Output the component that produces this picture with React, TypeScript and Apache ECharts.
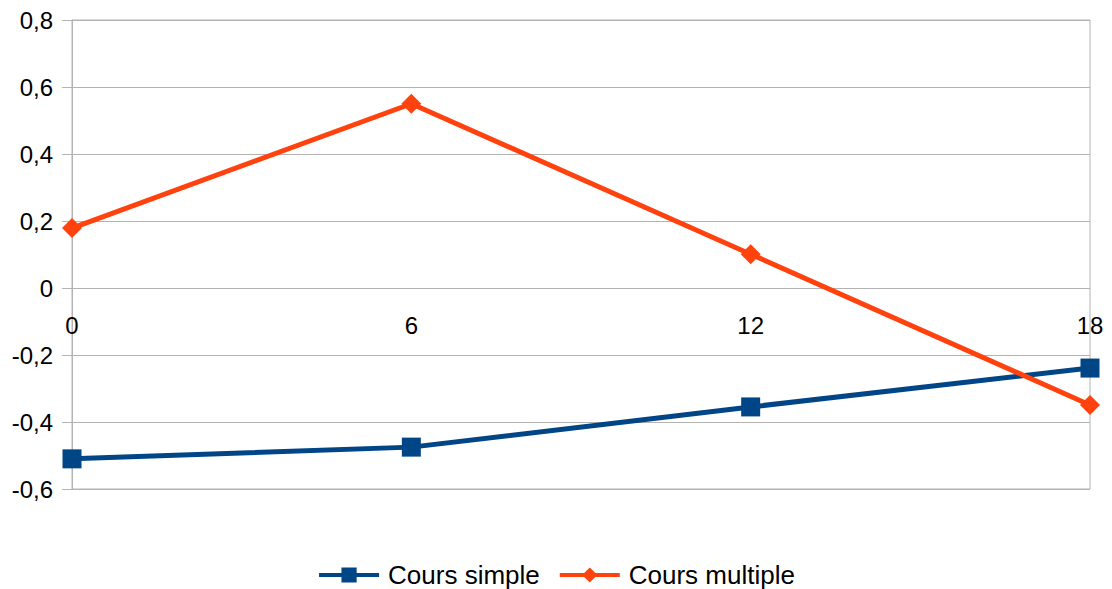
import React, { useEffect, useRef } from "react";
import * as echarts from "echarts";

const categories = ["0", "6", "12", "18"];
const coursSimple = [-0.51, -0.475, -0.355, -0.239];
const coursMultiple = [0.179, 0.55, 0.101, -0.349];

const FONT = "'Liberation Sans', Arial, sans-serif";
const GRID = "#b3b3b3";

export default function App() {
  const ref = useRef<HTMLDivElement>(null);
  useEffect(() => {
    if (!ref.current) return;
    const chart = echarts.init(ref.current, null, { renderer: "svg" });
    chart.setOption({
      animation: false,
      backgroundColor: "#ffffff",
      textStyle: { fontFamily: FONT },
      grid: {
        left: 72,
        right: 22,
        top: 20,
        bottom: 100,
        show: true,
        borderColor: GRID,
        borderWidth: 1,
        containLabel: false,
      },
      legend: {
        top: 557,
        left: "center",
        itemWidth: 60,
        itemHeight: 19,
        itemGap: 18,
        lineStyle: { width: 4 },
        textStyle: { fontSize: 26, color: "#000", fontFamily: FONT, padding: [0, 0, 0, 4] },
        data: ["Cours simple", "Cours multiple"],
      },
      xAxis: {
        type: "category",
        data: categories,
        boundaryGap: false,
        position: "bottom",
        offset: -201,
        axisLine: { show: false, onZero: false },
        axisTick: { show: false },
        axisLabel: { fontSize: 24, color: "#000", margin: 25, fontFamily: FONT },
        splitLine: { show: false },
      },
      yAxis: {
        type: "value",
        min: -0.6,
        max: 0.8,
        interval: 0.2,
        axisLine: { show: true, lineStyle: { color: GRID, width: 1 } },
        axisTick: { show: true, length: 10, lineStyle: { color: GRID } },
        axisLabel: {
          fontSize: 24,
          color: "#000",
          margin: 19,
          fontFamily: FONT,
          formatter: (v: number) => {
            const r = Math.round(v * 10) / 10;
            return String(r).replace(".", ",");
          },
        },
        splitLine: { show: true, lineStyle: { color: GRID, width: 1 } },
      },
      series: [
        {
          name: "Cours simple",
          type: "line",
          data: coursSimple,
          symbol: "rect",
          symbolSize: 19,
          lineStyle: { color: "#004586", width: 5 },
          itemStyle: { color: "#004586" },
        },
        {
          name: "Cours multiple",
          type: "line",
          data: coursMultiple,
          symbol: "diamond",
          symbolSize: 20,
          lineStyle: { color: "#ff420e", width: 5 },
          itemStyle: { color: "#ff420e" },
        },
      ],
    });
    return () => chart.dispose();
  }, []);
  return (
    <div
      ref={ref}
      style={{ position: "absolute", top: 0, left: 0, width: 1112, height: 589 }}
    />
  );
}
